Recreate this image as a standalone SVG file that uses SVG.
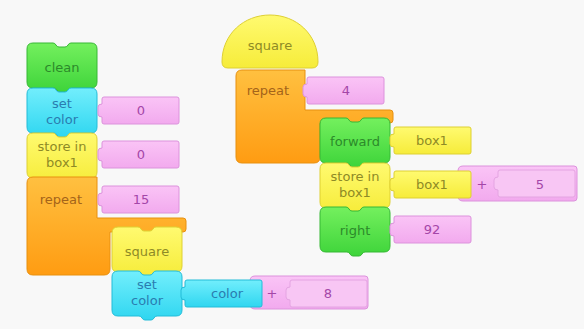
<svg xmlns="http://www.w3.org/2000/svg" width="584" height="329" viewBox="0 0 584 329">
  <defs>
    <linearGradient id="gGreen" x1="0" y1="0" x2="0" y2="1">
      <stop offset="0" stop-color="#74f05e"/>
      <stop offset="1" stop-color="#3ed43a"/>
    </linearGradient>
    <linearGradient id="gCyan" x1="0" y1="0" x2="0" y2="1">
      <stop offset="0" stop-color="#72eefc"/>
      <stop offset="1" stop-color="#2fd6f0"/>
    </linearGradient>
    <linearGradient id="gYellow" x1="0" y1="0" x2="0" y2="1">
      <stop offset="0" stop-color="#fffa70"/>
      <stop offset="1" stop-color="#f6ec3a"/>
    </linearGradient>
    <linearGradient id="gOrange" x1="0" y1="0" x2="0" y2="1">
      <stop offset="0" stop-color="#ffc040"/>
      <stop offset="1" stop-color="#ff9c12"/>
    </linearGradient>
    <linearGradient id="gPink" x1="0" y1="0" x2="0" y2="1">
      <stop offset="0" stop-color="#fac4f6"/>
      <stop offset="1" stop-color="#f2aaee"/>
    </linearGradient>
    <!-- statement block 70x45: notch on top, tab below -->
    <path id="stmt" d="M6,0 H26 q2,0 3,2 q1,2 3,2 H38 q2,0 3,-2 q1,-2 3,-2 H64 q6,0 6,6 V39 q0,6 -6,6 H45 q-2,0 -3,2 q-1,2 -3,2 H33 q-2,0 -3,-2 q-1,-2 -3,-2 H6 q-6,0 -6,-6 V6 q0,-6 6,-6 Z"/>
    <!-- value input 78x27 with a plug on the left -->
    <path id="inp" d="M3,0 H76 q2,0 2,2 V25 q0,2 -2,2 H3 q-2,0 -2,-2 V20 q-4,0 -4,-3 V10 q0,-3 4,-3 V2 q0,-2 2,-2 Z"/>
  </defs>
  <style>
    .green { fill: url(#gGreen); stroke: #36b834; stroke-width: 1; }
    .cyan { fill: url(#gCyan); stroke: #22bcd8; stroke-width: 1; }
    .yellow { fill: url(#gYellow); stroke: #ded032; stroke-width: 1; }
    .orange { fill: url(#gOrange); stroke: #e8900e; stroke-width: 1; }
    .pink { fill: url(#gPink); stroke: #dc92dc; stroke-width: 1; }
    .pinkin { fill: #f8c6f4; stroke: #e4a4e2; stroke-width: 1; }
    text { font-family: "DejaVu Sans", Verdana, sans-serif; font-size: 13px; text-anchor: middle; }
    .tg { fill: #2c8a2a; }
    .tc { fill: #2a7cb0; }
    .ty { fill: #8e8a26; }
    .to { fill: #a4641a; }
    .tp { fill: #a446a8; }
  </style>
  <rect width="584" height="329" fill="#f8f8f8"/>

  <!-- left stack -->
  <g id="clean">
    <use href="#stmt" x="27" y="43" class="green"/>
    <text x="62" y="72" class="tg">clean</text>
  </g>
  <g id="set-color-1">
    <use href="#stmt" x="27" y="88" class="cyan"/>
    <text x="62" y="108" class="tc">set</text>
    <text x="62" y="124" class="tc">color</text>
    <use href="#inp" x="101" y="97" class="pink"/>
    <text x="141" y="115" class="tp">0</text>
  </g>
  <g id="store-1">
    <use href="#stmt" x="27" y="133" class="yellow"/>
    <text x="62" y="151" class="ty">store in</text>
    <text x="62" y="167" class="ty">box1</text>
    <use href="#inp" x="101" y="141" class="pink"/>
    <text x="141" y="159" class="tp">0</text>
  </g>
  <g id="repeat-1">
    <path class="orange" d="M33,177 H97 V218 H183 q3,0 3,3 V229 q0,3 -3,3 H110 V269 q0,6 -6,6 H33 q-6,0 -6,-6 V183 q0,-6 6,-6 Z"/>
    <text x="61" y="204" class="to">repeat</text>
    <use href="#inp" x="101" y="186" class="pink"/>
    <text x="141" y="204" class="tp">15</text>
  </g>
  <g id="square-call">
    <use href="#stmt" x="112" y="227" class="yellow"/>
    <text x="147" y="256" class="ty">square</text>
  </g>
  <g id="set-color-2">
    <use href="#stmt" x="112" y="271" class="cyan"/>
    <text x="147" y="289" class="tc">set</text>
    <text x="147" y="305" class="tc">color</text>
    <path class="pink" d="M255,276 H365 q3,0 3,3 V306 q0,3 -3,3 H255 q-5,0 -5,-5 V281 q0,-5 5,-5 Z"/>
    <use href="#inp" x="289" y="280" class="pinkin"/>
    <text x="272" y="298" class="tp">+</text>
    <text x="328" y="298" class="tp">8</text>
    <use href="#inp" x="184" y="280" class="cyan"/>
    <text x="227" y="298" class="tc">color</text>
  </g>

  <!-- right stack -->
  <g id="square-def">
    <path class="yellow" d="M228,68 q-6,0 -6,-6 C222,34 244,15 270,15 C296,15 318,34 318,62 q0,6 -6,6 Z"/>
    <text x="270" y="50" class="ty">square</text>
  </g>
  <g id="repeat-2">
    <path class="orange" d="M242,70 H305 V110 H390 q3,0 3,3 V120 q0,3 -3,3 H320 V157 q0,6 -6,6 H242 q-6,0 -6,-6 V76 q0,-6 6,-6 Z"/>
    <text x="268" y="95" class="to">repeat</text>
    <use href="#inp" x="306" y="77" class="pink"/>
    <text x="346" y="95" class="tp">4</text>
  </g>
  <g id="forward">
    <use href="#stmt" x="320" y="118" class="green"/>
    <text x="355" y="146" class="tg">forward</text>
    <use href="#inp" x="393" y="127" class="yellow"/>
    <text x="432" y="145" class="ty">box1</text>
  </g>
  <g id="store-2">
    <use href="#stmt" x="320" y="163" class="yellow"/>
    <text x="355" y="181" class="ty">store in</text>
    <text x="355" y="197" class="ty">box1</text>
    <path class="pink" d="M463,166 H574 q3,0 3,3 V198 q0,3 -3,3 H463 q-5,0 -5,-5 V171 q0,-5 5,-5 Z"/>
    <use href="#inp" x="497" y="170" class="pinkin"/>
    <text x="482" y="189" class="tp">+</text>
    <text x="540" y="189" class="tp">5</text>
    <use href="#inp" x="393" y="171" class="yellow"/>
    <text x="432" y="189" class="ty">box1</text>
  </g>
  <g id="right">
    <use href="#stmt" x="320" y="207" class="green"/>
    <text x="355" y="235" class="tg">right</text>
    <use href="#inp" x="393" y="216" class="pink"/>
    <text x="432" y="234" class="tp">92</text>
  </g>

  <g id="connectors"/>
</svg>
